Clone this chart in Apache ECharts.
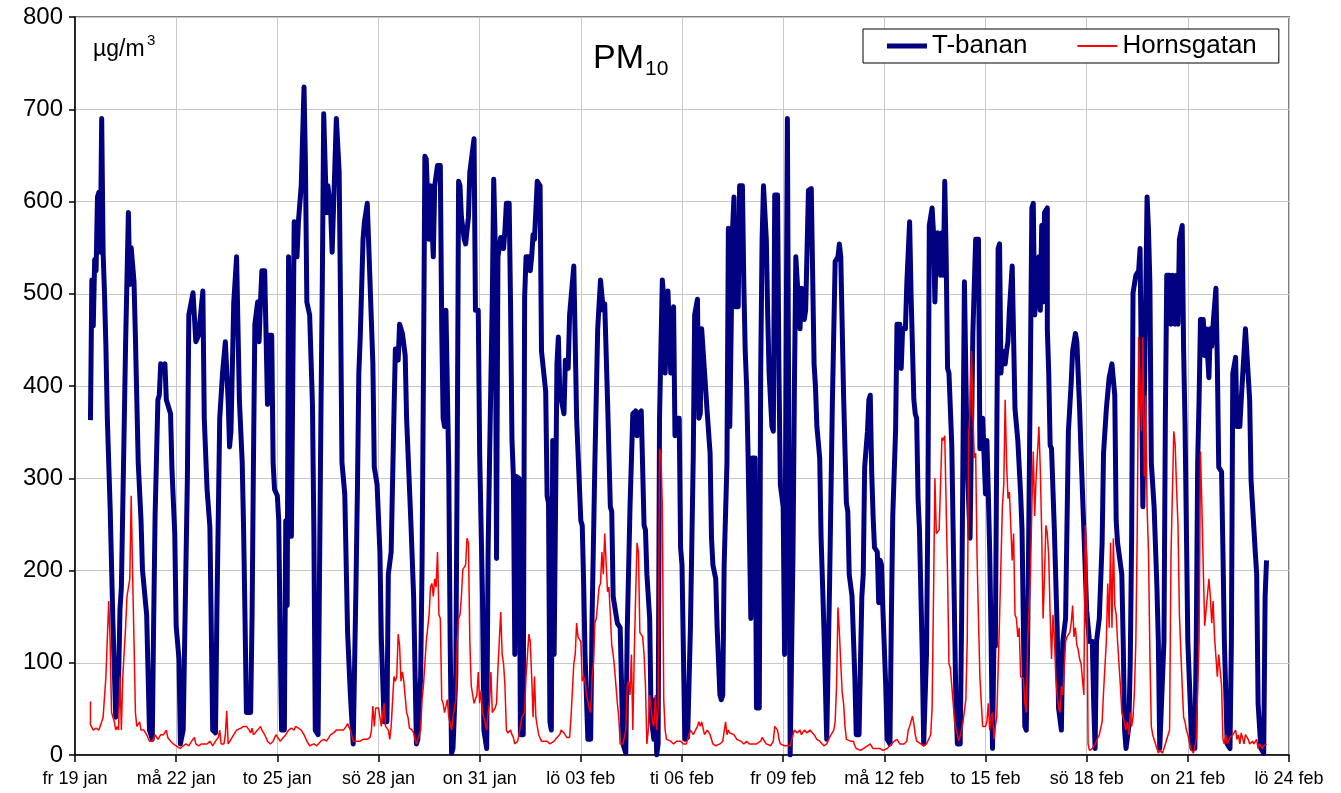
<!DOCTYPE html>
<html>
<head>
<meta charset="utf-8">
<title>PM10 T-banan / Hornsgatan</title>
<script src="https://cdn.jsdelivr.net/npm/echarts@6.0.0/dist/echarts.min.js"></script>
<style>
  html, body { margin: 0; padding: 0; background: #fff; }
  #chart { width: 1341px; height: 793px; }
</style>
</head>
<body>
<div id="chart"></div>
<script>
// x = timmar från fr 19 jan 00:00, y = µg/m3
const dateLabels = ['fr 19 jan', 'må 22 jan', 'to 25 jan', 'sö 28 jan', 'on 31 jan', 'lö 03 feb',
  'ti 06 feb', 'fr 09 feb', 'må 12 feb', 'to 15 feb', 'sö 18 feb', 'on 21 feb', 'lö 24 feb']

const tBanan = [
  [11,363],[12,515],[13,465],[14,537],[15,525],[16,605],[17,610],[18,545],[19,690],[20,545],[21,500],[22,443],[23,365],[25,269],[26,206],[27,143],[29,41],[30,41],[31,80],[32,157],[33,182],[35,356],[36,445],[38,588],[39,510],[40,550],[42,513],[43,453],[45,317],[47,254],[48,201],[51,152],[53,27],[55,17],[56,148],[57,259],[59,385],[60,390],[61,424],[63,419],[64,424],[65,385],[68,370],[69,310],[71,240],[72,140],[74,104],[75,12],[77,27],[80,302],[81,477],[82,475],[84,501],[86,448],[88,455],[91,503],[92,365],[94,288],[96,247],[98,27],[100,24],
  [101,157],[103,365],[105,414],[107,448],[109,385],[110,334],[111,351],[113,491],[115,540],[117,385],[119,317],[120,244],[121,148],[122,46],[125,46],[126,148],[127,317],[128,467],[130,491],[131,448],[132,491],[133,525],[135,525],[136,453],[137,380],[138,455],[140,455],[141,317],[142,288],[144,281],[145,254],[146,133],[147,27],[149,27],[150,254],[151,162],[152,540],[153,540],[154,237],[155,237],[156,578],[158,540],[159,578],[161,617],[163,724],[164,641],[165,491],[167,477],[169,380],[170,244],[171,27],[173,22],[175,365],[176,511],[177,695],[179,588],[180,617],[182,588],[183,545],[185,641],[186,690],[188,632],[189,486],[190,317],[192,283],[194,133],[196,65],[198,12],[200,186],
  [201,288],[202,414],[203,453],[205,559],[206,578],[208,598],[209,598],[210,511],[212,424],[213,312],[215,293],[217,220],[218,128],[220,36],[222,36],[223,196],[225,220],[227,370],[228,440],[230,428],[231,467],[233,457],[235,433],[236,365],[239,254],[241,172],[243,12],[244,17],[246,85],[247,206],[248,414],[249,649],[250,646],[252,559],[253,617],[255,540],[256,617],[258,639],[260,639],[261,462],[262,365],[263,356],[264,482],[265,482],[266,312],[267,123],[268,2],[269,7],[271,85],[272,317],[273,622],[274,617],[275,583],[277,559],[278,554],[280,583],[281,632],[284,668],[285,482],[287,482],[288,327],[290,172],[291,27],[293,7],[294,220],[295,317],[297,496],[298,624],[299,559],[300,213],
  [301,540],[303,561],[305,549],[306,569],[307,598],[309,598],[310,486],[311,341],[312,302],[313,109],[314,302],[316,300],[317,22],[319,22],[320,496],[321,540],[323,540],[324,525],[325,540],[326,564],[327,559],[329,622],[331,617],[332,438],[335,394],[336,281],[337,273],[338,36],[339,27],[340,341],[341,109],[343,424],[344,453],[345,394],[348,370],[349,428],[351,419],[352,477],[355,530],[357,365],[360,254],[361,249],[362,186],[363,109],[365,17],[367,17],[368,148],[370,317],[372,462],[374,515],[376,482],[377,489],[379,385],[381,269],[382,264],[383,172],[386,143],[388,138],[390,12],[392,2],[393,133],[395,269],[397,370],[399,373],[400,346],
  [401,370],[403,373],[405,249],[406,244],[407,196],[409,148],[410,41],[412,17],[413,60],[414,0],[415,12],[416,365],[418,515],[419,496],[420,414],[421,414],[422,503],[424,414],[425,414],[426,486],[427,346],[428,365],[430,365],[431,225],[432,206],[434,17],[436,19],[438,138],[440,322],[441,477],[443,494],[444,365],[445,370],[446,462],[447,462],[450,370],[452,327],[453,235],[454,206],[456,191],[457,138],[459,65],[460,60],[461,65],[462,206],[464,317],[465,571],[466,356],[468,571],[469,605],[470,486],[472,486],[473,617],[475,617],[476,511],[477,438],[478,399],[479,327],[481,148],[482,322],[484,322],[485,51],[487,51],[488,414],[489,559],[490,617],[492,559],[493,477],[494,414],[496,356],[497,351],[498,607],[500,607],
  [501,414],[502,293],[504,269],[505,109],[506,109],[507,690],[508,690],[509,0],[511,220],[512,399],[513,540],[514,540],[516,462],[517,506],[519,472],[520,482],[522,612],[524,614],[526,424],[527,399],[528,356],[530,322],[531,235],[533,138],[535,17],[536,17],[537,182],[539,380],[541,535],[543,540],[544,554],[545,540],[547,390],[548,390],[549,273],[550,264],[551,196],[553,172],[555,85],[556,22],[558,22],[559,99],[560,172],[561,196],[562,312],[564,351],[565,385],[566,390],[567,307],[568,259],[569,225],[571,220],[572,165],[573,211],[574,206],[575,157],[577,75],[578,17],[580,12],[581,148],[582,259],[584,351],[585,467],[587,467],[588,419],[589,462],[591,462],[592,511],[594,578],[595,501],[597,385],[598,370],[599,365],[600,278],
  [601,244],[603,109],[604,12],[605,12],[606,109],[607,269],[608,574],[610,593],[611,566],[612,491],[613,559],[614,566],[616,520],[617,566],[618,520],[619,622],[620,540],[621,419],[622,414],[624,336],[625,240],[626,143],[627,51],[628,12],[630,12],[631,148],[633,513],[635,317],[637,235],[638,235],[639,457],[641,559],[643,559],[644,332],[645,332],[646,365],[648,283],[649,341],[650,283],[651,220],[652,123],[653,7],[654,123],[655,118],[657,549],[658,554],[659,414],[660,438],[662,424],[663,438],[664,448],[665,482],[667,530],[668,530],[669,375],[671,341],[673,283],[674,244],[676,31],[677,27],[678,123],[680,428],[681,593],[682,598],[683,477],[684,477],[686,540],[687,482],[688,574],[689,491],[690,588],[692,593],[692,462],[693,414],[694,336],[695,332],[697,244],[699,138],[700,51],
  [702,27],[703,123],[705,148],[707,351],[709,404],[710,438],[712,457],[713,448],[715,375],[716,327],[718,244],[720,157],[722,123],[724,123],[725,56],[726,7],[727,123],[729,148],[731,230],[732,327],[734,375],[736,409],[738,424],[739,424],[740,390],[741,254],[742,230],[745,196],[746,123],[747,27],[748,7],[750,31],[751,99],[752,235],[753,501],[755,520],[757,525],[758,549],[759,549],[760,269],[761,269],[763,605],[764,569],[765,511],[766,317],[768,269],[770,182],[771,123],[772,7],[773,7],[775,123],[776,365],[777,520],[779,520],[780,467],[781,520],[783,467],[784,520],[785,467],[786,559],[788,574],[789,438],[790,360],[791,360],[792,123],[793,123],[795,7],[797,7],[798,123],[799,317],[800,385],
  [801,472],[803,472],[804,433],[805,462],[807,409],[808,462],[809,443],[810,467],[812,506],[813,424],[814,312],[816,307],[817,220],[818,123],[820,12],[822,7],[823,123],[824,414],[826,431],[827,356],[829,356],[830,385],[831,385],[833,462],[834,462],[836,385],[837,298],[840,220],[841,196],[842,56],[844,7],[846,2],[847,172],[848,211]
]

const hornsgatan = [
  [11,58],[11,33],[12,30],[13,27],[15,29],[17,27],[18,27],[19,36],[20,41],[22,85],[23,85],[24,167],[25,123],[26,46],[28,36],[29,27],[30,31],[31,27],[32,85],[33,27],[34,85],[36,138],[37,172],[39,191],[40,281],[41,196],[42,123],[43,46],[44,31],[46,36],[47,27],[49,27],[51,22],[53,15],[55,15],[57,22],[59,17],[61,22],[63,22],[65,27],[66,19],[68,15],[70,12],[72,10],[75,7],[77,10],[79,12],[81,10],[83,15],[85,19],[86,12],[88,10],[90,12],[92,12],[94,12],[96,15],[98,10],[100,15],
  [102,19],[103,27],[104,12],[106,12],[107,22],[108,48],[109,12],[111,17],[113,22],[115,27],[118,29],[120,31],[122,31],[124,27],[125,24],[126,29],[127,22],[130,27],[132,31],[133,27],[135,22],[137,15],[139,12],[141,15],[143,22],[144,22],[146,15],[147,17],[150,22],[152,27],[154,29],[156,27],[157,31],[159,29],[161,27],[163,22],[165,15],[167,10],[170,12],[172,10],[175,15],[177,17],[179,15],[182,22],[184,24],[186,27],[189,27],[191,27],[193,31],[194,34],[196,27],[198,15],
  [201,15],[203,15],[205,17],[208,17],[210,19],[211,27],[212,53],[213,31],[214,51],[216,51],[217,53],[218,31],[220,56],[221,31],[222,31],[223,27],[224,17],[225,31],[227,85],[228,80],[229,85],[230,131],[231,119],[232,80],[233,90],[234,80],[236,46],[237,41],[238,29],[240,27],[241,24],[242,17],[243,12],[244,17],[246,27],[247,60],[248,75],[249,99],[250,123],[252,152],[253,182],[254,186],[255,172],[256,191],[257,182],[258,220],[259,152],[260,148],[261,60],[262,56],[263,46],[265,60],[266,41],[267,41],[268,27],[269,41],[271,60],[272,123],[273,148],[274,152],[275,172],[276,201],[278,206],[279,235],[280,230],[281,123],[282,75],[284,56],[285,56],[286,65],[287,90],[288,56],[289,70],[290,46],[291,41],[293,27],[294,46],[295,56],[296,90],[297,46],[298,44],[299,51],[300,56],
  [301,94],[303,155],[304,109],[305,99],[306,75],[307,27],[308,24],[310,27],[311,22],[312,19],[313,12],[315,15],[316,22],[317,24],[318,41],[320,46],[321,85],[323,131],[324,123],[325,85],[326,41],[327,85],[328,41],[329,31],[330,22],[332,15],[334,15],[336,15],[338,12],[341,15],[343,19],[345,22],[346,27],[348,24],[350,19],[352,19],[353,41],[355,99],[356,109],[357,143],[358,128],[360,123],[361,80],[362,85],[363,80],[364,65],[366,51],[367,46],[368,85],[369,99],[370,143],[371,148],[373,182],[374,186],[375,220],[376,196],[377,240],[379,177],[380,182],[381,152],[382,119],[383,109],[384,94],[386,56],[387,41],[388,12],[390,12],[392,27],[393,75],[394,80],[395,65],[396,109],[397,27],[398,109],[399,172],[400,230],
  [401,220],[402,133],[404,128],[405,109],[406,75],[407,12],[408,27],[409,65],[411,36],[412,31],[413,65],[414,27],[415,51],[416,332],[417,327],[418,269],[419,60],[420,27],[421,17],[424,15],[426,12],[428,15],[431,15],[433,12],[435,12],[436,17],[438,27],[440,22],[443,31],[444,36],[445,31],[446,36],[447,36],[448,22],[450,27],[452,22],[454,12],[456,10],[459,12],[461,15],[463,36],[464,22],[465,27],[466,24],[469,22],[471,17],[474,15],[476,12],[478,15],[480,12],[483,12],[485,12],[488,15],[489,19],[490,17],[492,12],[495,10],[497,15],[498,31],[500,27],
  [501,17],[502,12],[505,10],[507,10],[509,10],[511,22],[512,27],[514,24],[516,27],[517,22],[519,27],[521,24],[523,27],[526,22],[528,17],[530,15],[533,10],[535,12],[537,19],[540,27],[541,36],[542,75],[543,160],[544,133],[545,99],[546,68],[547,56],[548,31],[549,17],[552,15],[554,15],[555,10],[556,7],[559,5],[561,7],[564,10],[566,12],[568,7],[571,7],[573,7],[575,5],[578,7],[580,10],[583,15],[585,17],[587,12],[590,12],[592,15],[593,27],[594,31],[596,42],[597,34],[598,22],[599,15],
  [602,12],[604,10],[606,12],[609,22],[610,51],[611,172],[612,300],[613,240],[615,244],[616,293],[617,344],[618,341],[619,346],[620,269],[621,196],[622,99],[623,94],[624,75],[625,56],[626,36],[628,22],[629,15],[630,15],[631,27],[632,36],[634,60],[635,123],[636,346],[637,375],[638,438],[639,370],[640,322],[641,327],[642,215],[643,148],[644,85],[645,56],[646,31],[648,31],[649,36],[650,56],[651,27],[652,41],[653,46],[654,17],[655,31],[656,41],[657,94],[658,148],[660,269],[661,293],[662,385],[663,317],[664,278],[665,285],[667,211],[668,240],[669,152],[670,148],[671,128],[672,138],[673,85],[675,83],[676,56],[677,46],[678,123],[680,196],[681,269],[682,329],[683,259],[684,300],[686,356],[687,310],[688,240],[689,148],[690,196],[691,249],[692,240],[693,215],[694,152],[695,104],[696,152],[697,128],[698,85],[699,65],[700,51],
  [701,46],[702,75],[703,65],[705,123],[706,128],[708,133],[709,143],[710,162],[711,128],[712,138],[713,119],[714,114],[715,104],[716,99],[718,65],[719,249],[720,215],[721,12],[722,5],[724,7],[726,12],[727,10],[729,22],[731,36],[732,68],[734,123],[735,186],[736,138],[737,230],[738,138],[739,235],[740,162],[741,152],[742,123],[744,75],[745,46],[746,41],[747,41],[748,27],[749,36],[750,22],[751,46],[752,31],[753,41],[754,70],[755,123],[756,244],[757,453],[758,404],[759,351],[760,453],[761,302],[762,390],[763,269],[764,220],[765,109],[766,31],[767,22],[769,12],[770,12],[771,2],[772,5],[774,2],[776,12],[777,17],[779,27],[780,215],[782,351],[783,336],[784,288],[785,249],[786,152],[788,75],[789,41],[790,36],[791,27],[792,22],[794,7],[796,2],[798,17],[800,123],
  [801,329],[802,269],[803,201],[804,140],[805,140],[807,191],[808,172],[809,143],[810,167],[811,128],[813,85],[814,109],[816,75],[817,17],[818,12],[819,22],[820,12],[822,19],[824,22],[826,27],[827,17],[828,22],[829,12],[830,24],[832,12],[833,22],[835,17],[836,12],[838,15],[839,12],[841,17],[842,7],[843,12],[845,7],[846,10],[848,12]
]

const FONT = '"Liberation Sans", Arial, sans-serif'

const option = {
  animation: false,
  backgroundColor: '#fff',
  grid: {
    left: 75,
    right: 52,
    top: 17,
    bottom: 38,
    show: true,
    borderColor: '#808080',
    borderWidth: 2,
    containLabel: false
  },
  legend: {
    left: 863,
    top: 29,
    padding: [4, 22, 4, 24],
    itemGap: 50,
    itemWidth: 40,
    itemHeight: 14,
    symbolKeepAspect: true,
    borderColor: '#000',
    borderWidth: 1,
    borderRadius: 0,
    backgroundColor: '#fff',
    textStyle: { fontSize: 26, color: '#000', fontFamily: FONT },
    data: [
      // linjeprov utan punktsymbol
      { name: 'T-banan', icon: 'path://M0,0H40V5H0Z' },
      { name: 'Hornsgatan', icon: 'path://M0,0H40V2H0Z' }
    ]
  },
  graphic: [
    { type: 'text', left: 593, top: 42, style: { text: 'PM', font: '34px ' + FONT, fill: '#000' } },
    { type: 'text', left: 645, top: 59, style: { text: '10', font: '21px ' + FONT, fill: '#000' } },
    { type: 'text', left: 93, top: 38, style: { text: 'µg/m', font: '23px ' + FONT, fill: '#000' } },
    { type: 'text', left: 147, top: 33, style: { text: '3', font: '15px ' + FONT, fill: '#000' } }
  ],
  xAxis: {
    type: 'value',
    min: 0,
    max: 864,
    interval: 72,
    axisLine: { show: true, lineStyle: { color: '#000', width: 1.5 } },
    axisTick: { show: true, inside: false, length: 7, lineStyle: { color: '#000', width: 1.5 } },
    splitLine: { show: true, lineStyle: { color: '#c8c8c8', width: 1 } },
    axisLabel: {
      margin: 15,
      fontSize: 18,
      color: '#000',
      fontFamily: FONT,
      formatter: v => dateLabels[Math.round(v / 72)]
    }
  },
  yAxis: {
    type: 'value',
    min: 0,
    max: 800,
    interval: 100,
    axisLine: { show: true, lineStyle: { color: '#000', width: 1.5 } },
    axisTick: { show: true, inside: false, length: 6, lineStyle: { color: '#000', width: 1.5 } },
    splitLine: { show: true, lineStyle: { color: '#c8c8c8', width: 1 } },
    axisLabel: { margin: 12, fontSize: 24, color: '#000', fontFamily: FONT }
  },
  series: [
    {
      name: 'T-banan',
      type: 'line',
      data: tBanan,
      symbol: 'none',
      lineStyle: { color: '#000080', width: 5, join: 'round' },
      itemStyle: { color: '#000080' }
    },
    {
      name: 'Hornsgatan',
      type: 'line',
      data: hornsgatan,
      symbol: 'none',
      lineStyle: { color: '#ff0000', width: 1.5 },
      itemStyle: { color: '#ff0000' }
    }
  ]
}

const myChart = echarts.init(document.getElementById('chart'), null, { renderer: 'canvas' })
myChart.setOption(option)
window.addEventListener('resize', function () {
  myChart && myChart.resize()
})
</script>
</body>
</html>
